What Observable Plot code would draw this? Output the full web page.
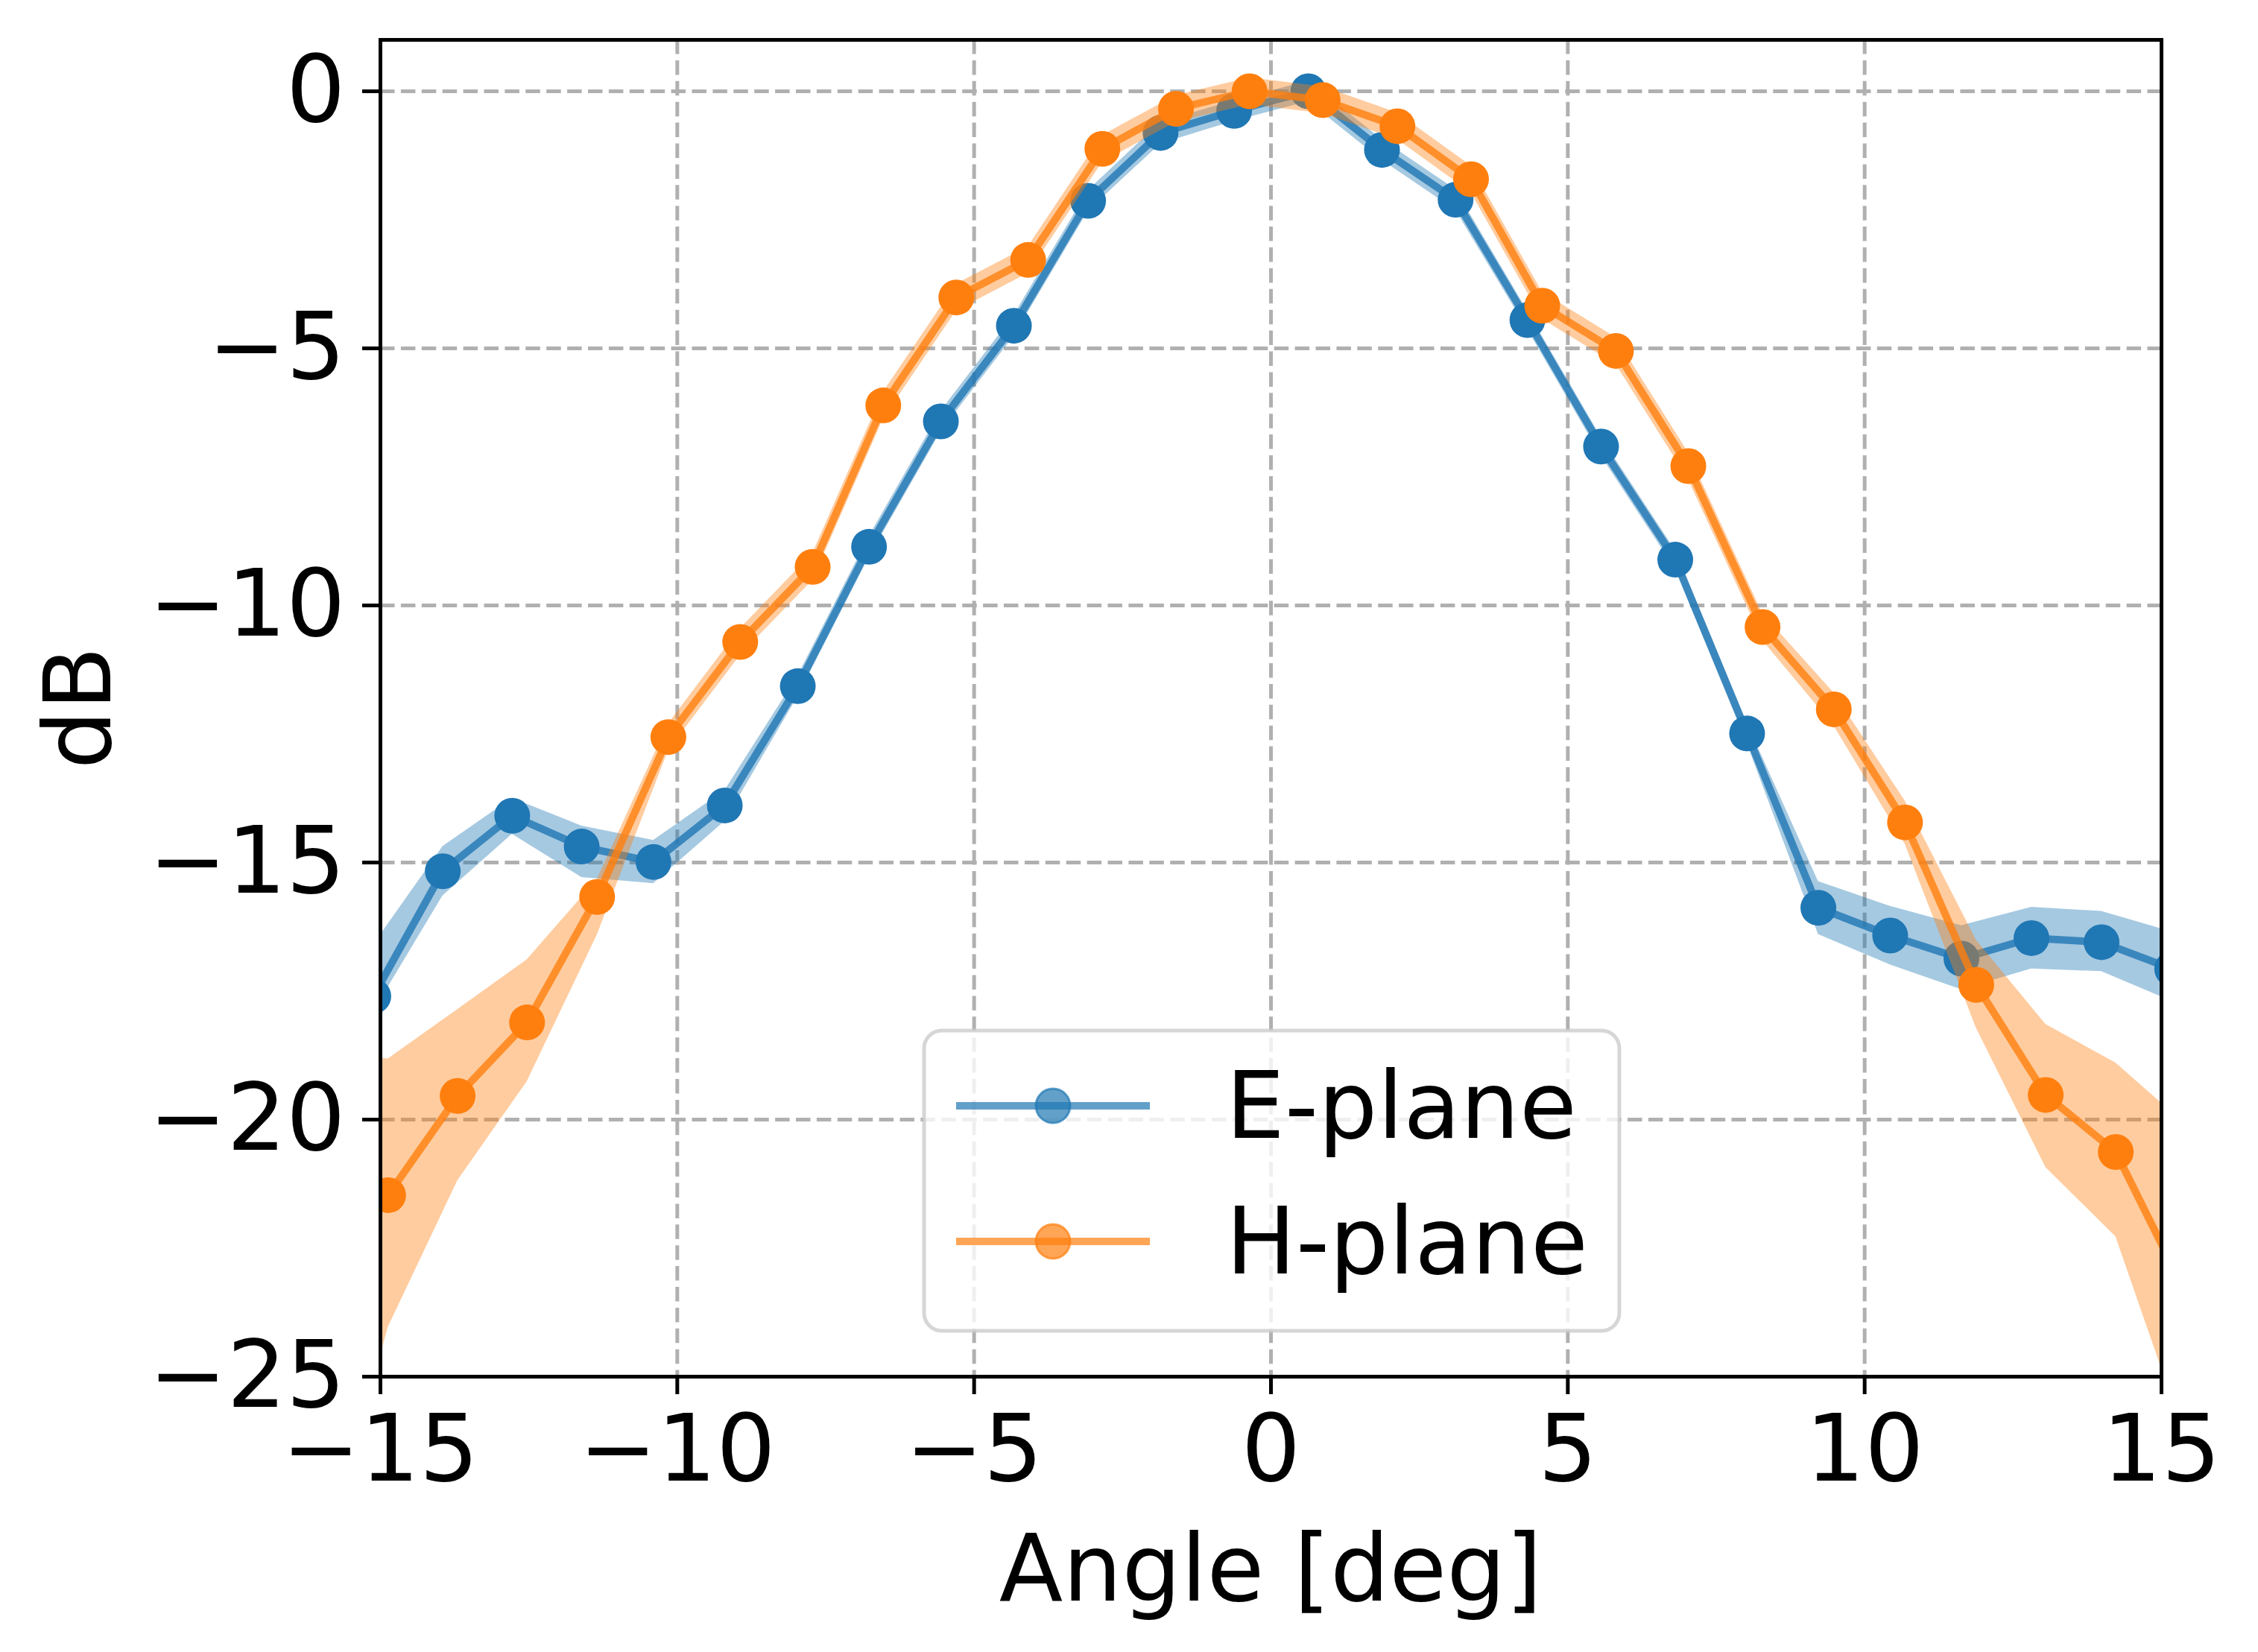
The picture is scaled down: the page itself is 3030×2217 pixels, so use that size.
<!DOCTYPE html>
<html>
<head>
<meta charset="utf-8">
<script src="https://cdn.jsdelivr.net/npm/d3@7"></script>
<script src="https://cdn.jsdelivr.net/npm/@observablehq/plot@0.6"></script>
<style>
  html, body { margin: 0; padding: 0; background: white; }
  #chart svg { display: block; }
</style>
</head>
<body>
<div id="chart"></div>
<script>
// E-plane measurements
const eAngle = [-15.12, -13.95, -12.78, -11.61, -10.40, -9.20, -7.97, -6.77, -5.56, -4.33, -3.08, -1.86, -0.62, 0.63, 1.87, 3.11, 4.32, 5.56, 6.81, 8.02, 9.22, 10.43, 11.63, 12.81, 13.99, 15.18];
const eDb    = [-17.6, -15.17, -14.09, -14.69, -14.99, -13.89, -11.57, -8.86, -6.42, -4.56, -2.13, -0.81, -0.38, 0.0, -1.14, -2.11, -4.45, -6.91, -9.11, -12.49, -15.88, -16.42, -16.87, -16.47, -16.55, -17.07];
const eHigh  = [-16.6, -14.69, -13.75, -14.29, -14.57, -13.6, -11.37, -8.66, -6.22, -4.36, -1.93, -0.6, -0.18, 0.2, -0.94, -1.91, -4.27, -6.73, -8.93, -12.29, -15.37, -15.85, -16.23, -15.87, -15.95, -16.35];
const eLow   = [-17.9, -15.65, -14.45, -15.29, -15.41, -14.2, -11.77, -9.06, -6.62, -4.76, -2.33, -1.02, -0.58, -0.2, -1.34, -2.31, -4.63, -7.09, -9.29, -12.69, -16.40, -16.99, -17.47, -17.07, -17.12, -17.7];

// H-plane measurements
const hAngle = [-16.05, -14.87, -13.70, -12.53, -11.35, -10.15, -8.94, -7.72, -6.53, -5.30, -4.09, -2.84, -1.60, -0.36, 0.87, 2.13, 3.37, 4.57, 5.81, 7.03, 8.28, 9.48, 10.68, 11.88, 13.05, 14.23, 15.43];
const hDb    = [-23.0, -21.47, -19.54, -18.11, -15.67, -12.56, -10.71, -9.25, -6.11, -4.01, -3.28, -1.12, -0.34, 0.0, -0.17, -0.68, -1.71, -4.17, -5.05, -7.29, -10.42, -12.02, -14.22, -17.38, -19.52, -20.63, -23.42];
const hHigh  = [-18.7, -18.82, -17.86, -16.89, -15.33, -12.3, -10.45, -8.99, -5.85, -3.75, -3.02, -0.86, -0.08, 0.26, 0.09, -0.42, -1.45, -3.91, -4.79, -7.03, -10.16, -11.7, -13.8, -16.51, -18.15, -18.9, -20.12];
const hLow   = [-29.0, -24.04, -21.19, -19.26, -16.41, -12.82, -10.97, -9.51, -6.37, -4.27, -3.54, -1.38, -0.6, -0.26, -0.43, -0.94, -1.97, -4.43, -5.31, -7.55, -10.68, -12.34, -14.64, -18.22, -20.93, -22.28, -26.27];

const xTicks = [-15, -10, -5, 0, 5, 10, 15];
const yTicks = [0, -5, -10, -15, -20, -25];
const seriesNames = ["E-plane", "H-plane"];
const seriesColors = ["#1f77b4", "#ff7f0e"];

const eData = eAngle.map((x, i) => ({x, y: eDb[i], lo: eLow[i], hi: eHigh[i]}));
const hData = hAngle.map((x, i) => ({x, y: hDb[i], lo: hLow[i], hi: hHigh[i]}));

const fmt = d => d < 0 ? "\u2212" + Math.abs(d) : String(d);
const FONT = "DejaVu Sans";
const FS = 125;

const W = 3030, H = 2217;
const mL = 510, mR = 130, mT = 53, mB = 370;

function series(data, color) {
  return [
    Plot.areaY(data, {x: "x", y1: "lo", y2: "hi", fill: color, fillOpacity: 0.4, clip: true}),
    Plot.line(data, {x: "x", y: "y", stroke: color, strokeWidth: 10, strokeOpacity: 0.8, clip: true}),
    Plot.dot(data, {x: "x", y: "y", r: 24, fill: color, stroke: "none", clip: true})
  ];
}

const grid = {stroke: "#b0b0b0", strokeOpacity: 1, strokeWidth: 5, strokeDasharray: "19.5,8.4"};

const chart = Plot.plot({
  width: W, height: H,
  marginLeft: mL, marginRight: mR, marginTop: mT, marginBottom: mB,
  style: {fontFamily: FONT, background: "white", color: "black"},
  x: {domain: [-15, 15]},
  y: {domain: [-25, 1]},
  marks: [
    Plot.gridX(xTicks, grid),
    Plot.gridY(yTicks, grid),
    ...series(eData, seriesColors[0]),
    ...series(hData, seriesColors[1]),
    Plot.axisX(xTicks, {tickSize: 24, strokeWidth: 5, tickPadding: 27, fontSize: FS, tickFormat: fmt, label: null}),
    Plot.axisY(yTicks, {tickSize: 24, strokeWidth: 5, tickPadding: 23, fontSize: FS, tickFormat: fmt, label: null}),
    Plot.frame({stroke: "black", strokeWidth: 5})
  ]
});

document.getElementById("chart").appendChild(chart);

const svg = d3.select(chart);
// axis labels
svg.append("text")
  .attr("x", (mL + W - mR) / 2).attr("y", 2148)
  .attr("text-anchor", "middle")
  .attr("font-family", FONT).attr("font-size", FS).attr("fill", "black")
  .text("Angle [deg]");
svg.append("text")
  .attr("transform", `translate(148,${(mT + H - mB) / 2}) rotate(-90)`)
  .attr("text-anchor", "middle")
  .attr("font-family", FONT).attr("font-size", FS).attr("fill", "black")
  .text("dB");

// legend
const lg = svg.append("g");
lg.append("rect")
  .attr("x", 1240).attr("y", 1383).attr("width", 933).attr("height", 403)
  .attr("rx", 24).attr("ry", 24)
  .attr("fill", "white").attr("fill-opacity", 0.8)
  .attr("stroke", "#cccccc").attr("stroke-opacity", 0.8).attr("stroke-width", 5);
const rows = [1484, 1666];
seriesNames.forEach((name, i) => {
  const cy = rows[i];
  lg.append("line")
    .attr("x1", 1283).attr("x2", 1543).attr("y1", cy).attr("y2", cy)
    .attr("stroke", seriesColors[i]).attr("stroke-opacity", 0.7).attr("stroke-width", 10);
  lg.append("circle")
    .attr("cx", 1413).attr("cy", cy).attr("r", 23)
    .attr("fill", seriesColors[i]).attr("fill-opacity", 0.7)
    .attr("stroke", seriesColors[i]).attr("stroke-opacity", 0.7).attr("stroke-width", 3);
  lg.append("text")
    .attr("x", 1645).attr("y", cy + 43)
    .attr("text-anchor", "start")
    .attr("font-family", FONT).attr("font-size", FS).attr("fill", "black")
    .text(name);
});
</script>
</body>
</html>
